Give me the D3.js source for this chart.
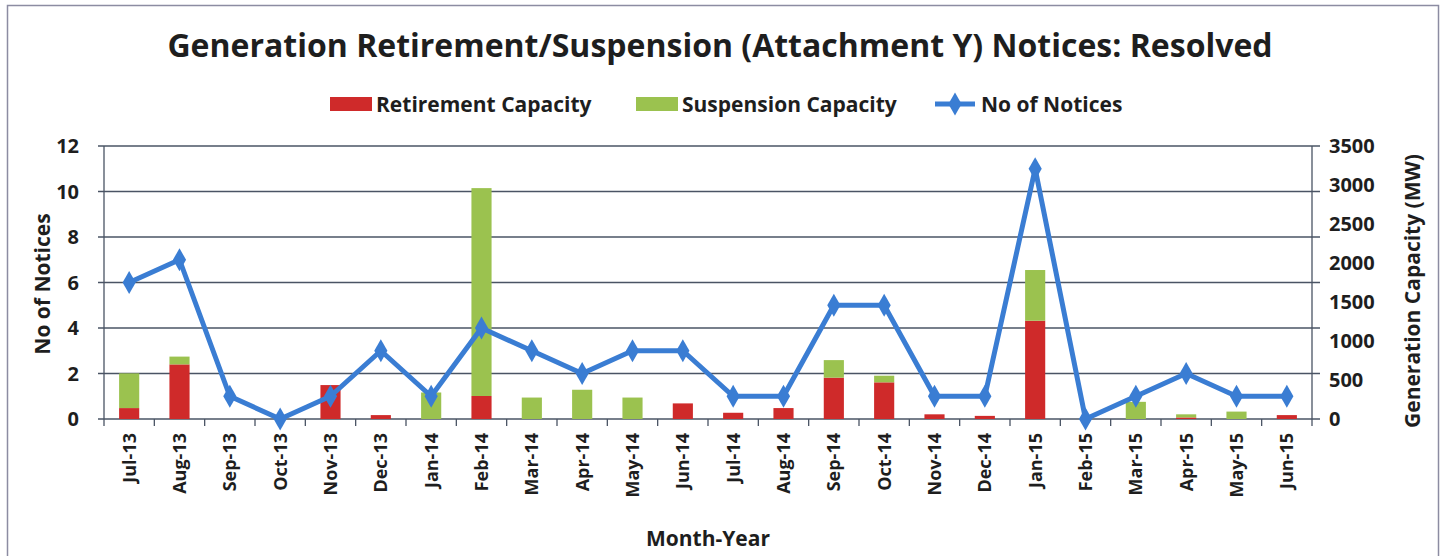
<!DOCTYPE html>
<html>
<head>
<meta charset="utf-8">
<script src="https://cdn.jsdelivr.net/npm/d3@7"></script>
<style>
  html, body { margin: 0; padding: 0; background: #fff; }
  svg { display: block; }
  text { font-family: "Open Sans", Lato, sans-serif; font-weight: 700; fill: #1e1e1e; }
</style>
</head>
<body>
<svg id="chart" width="1441" height="556"></svg>
<script>
// Monthly resolved Attachment Y notices and the capacity (MW) they cover
const months = ["Jul-13","Aug-13","Sep-13","Oct-13","Nov-13","Dec-13","Jan-14","Feb-14",
  "Mar-14","Apr-14","May-14","Jun-14","Jul-14","Aug-14","Sep-14","Oct-14","Nov-14","Dec-14",
  "Jan-15","Feb-15","Mar-15","Apr-15","May-15","Jun-15"];
const retirementMW = [140,700,0,0,435,50,0,295,0,0,0,200,80,140,530,470,60,40,1260,0,0,20,0,50];
const suspensionMW = [445,100,0,0,0,0,340,2665,275,375,275,0,0,0,225,85,0,0,650,0,220,40,95,0];
const notices = [6,7,1,0,1,3,1,4,3,2,3,3,1,1,5,5,1,1,11,0,1,2,1,1];
const leftTicks = [0,2,4,6,8,10,12];
const rightTicks = [0,500,1000,1500,2000,2500,3000,3500];

const colors = { retire: "#cf2a2a", suspend: "#9bc24f", line: "#3a7dd3", grid: "#4a5464" };

const svg = d3.select("#chart");
const m = { left: 104, right: 1312, top: 146, bottom: 419 };

// outer frame
svg.append("rect").attr("x", 7.5).attr("y", 5.5).attr("width", 1431).attr("height", 560)
  .attr("fill", "none").attr("stroke", "#8c8ca2").attr("stroke-width", 1.5);

const x = d3.scaleBand().domain(months).range([m.left, m.right]).paddingInner(0.6).paddingOuter(0.3);
const xc = d => x(d) + x.bandwidth() / 2;
const yL = d3.scaleLinear().domain([0, 12]).range([m.bottom, m.top]);
const yR = d3.scaleLinear().domain([0, 3500]).range([m.bottom, m.top]);

// horizontal gridlines
svg.append("g").selectAll("line").data(leftTicks).join("line")
  .attr("x1", m.left - 6).attr("x2", m.right + 8)
  .attr("y1", d => yL(d)).attr("y2", d => yL(d))
  .attr("stroke", colors.grid).attr("stroke-width", 1.3);

// stacked capacity bars (right axis)
const stack = d3.stack().keys(["retire", "suspend"])(
  months.map((mo, i) => ({ month: mo, retire: retirementMW[i], suspend: suspensionMW[i] })));
svg.append("g").selectAll("g").data(stack).join("g")
  .attr("fill", s => colors[s.key])
  .selectAll("rect").data(s => s).join("rect")
  .attr("x", d => x(d.data.month))
  .attr("width", x.bandwidth())
  .attr("y", d => yR(d[1]))
  .attr("height", d => yR(d[0]) - yR(d[1]));

// axis lines
const axisG = svg.append("g").attr("stroke", colors.grid).attr("stroke-width", 1.3);
axisG.append("line").attr("x1", m.left).attr("x2", m.left).attr("y1", m.top).attr("y2", m.bottom);
axisG.append("line").attr("x1", m.right).attr("x2", m.right).attr("y1", m.top).attr("y2", m.bottom);
// category separator ticks below the x axis
const step = x.step();
axisG.selectAll("line.xt").data(d3.range(months.length + 1)).join("line").attr("class", "xt")
  .attr("x1", i => m.left + i * step).attr("x2", i => m.left + i * step)
  .attr("y1", m.bottom).attr("y2", m.bottom + 7);

// left tick labels
svg.append("g").selectAll("text").data(leftTicks).join("text")
  .attr("x", 79).attr("y", d => yL(d)).attr("dy", "0.36em")
  .attr("text-anchor", "end").style("font-size", "20px").text(d => d);

// right tick labels
svg.append("g").selectAll("text").data(rightTicks).join("text")
  .attr("x", 1329).attr("y", d => yR(d)).attr("dy", "0.36em")
  .attr("text-anchor", "start").style("font-size", "20px").text(d => d);

// month labels, rotated
svg.append("g").selectAll("text").data(months).join("text")
  .attr("transform", d => `translate(${xc(d)},433) rotate(-90)`)
  .attr("dy", "0.36em").attr("text-anchor", "end").style("font-size", "18px").text(d => d);

// notices line with diamond markers (left axis)
const line = d3.line().x((d, i) => xc(months[i])).y(d => yL(d));
svg.append("path").datum(notices).attr("d", line)
  .attr("fill", "none").attr("stroke", colors.line).attr("stroke-width", 5).attr("stroke-linejoin", "round");
const diamond = d3.symbol().type(d3.symbolDiamond).size(150);
svg.append("g").selectAll("path").data(notices).join("path")
  .attr("transform", (d, i) => `translate(${xc(months[i])},${yL(d)})`)
  .attr("d", diamond).attr("fill", colors.line);

// titles
svg.append("text").attr("x", 720).attr("y", 57).attr("text-anchor", "middle")
  .style("font-size", "32px").text("Generation Retirement/Suspension (Attachment Y) Notices: Resolved");
svg.append("text").attr("transform", "translate(42,284) rotate(-90)")
  .attr("text-anchor", "middle").attr("dy", "0.36em").style("font-size", "21px").text("No of Notices");
svg.append("text").attr("transform", "translate(1412,291) rotate(-90)")
  .attr("text-anchor", "middle").attr("dy", "0.36em").style("font-size", "21px").text("Generation Capacity (MW)");
svg.append("text").attr("x", 708).attr("y", 546).attr("text-anchor", "middle")
  .style("font-size", "21px").text("Month-Year");

// legend
const legend = svg.append("g");
const items = [
  { label: "Retirement Capacity", type: "rect", color: colors.retire, x: 330 },
  { label: "Suspension Capacity", type: "rect", color: colors.suspend, x: 636 },
  { label: "No of Notices", type: "line", color: colors.line, x: 935 }
];
items.forEach(it => {
  const g = legend.append("g").attr("transform", `translate(${it.x},104)`);
  if (it.type === "rect") {
    g.append("rect").attr("x", 0).attr("y", -7).attr("width", 42).attr("height", 14).attr("fill", it.color);
  } else {
    g.append("line").attr("x1", 0).attr("x2", 40).attr("stroke", it.color).attr("stroke-width", 5);
    g.append("path").attr("transform", "translate(20,0)").attr("d", diamond).attr("fill", it.color);
  }
  g.append("text").attr("x", 46).attr("dy", "0.36em").style("font-size", "21px").text(it.label);
});
</script>
</body>
</html>
